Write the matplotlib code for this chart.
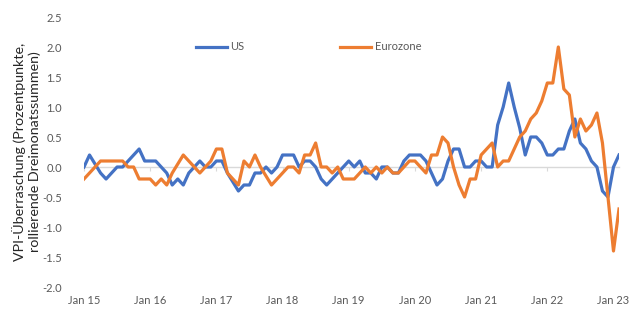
import matplotlib
matplotlib.use("Agg")
import matplotlib.pyplot as plt
import numpy as np

# Monthly data, Jan 2015 .. Feb 2023
us = [0.0, 0.2, 0.05, -0.1, -0.2, -0.1, 0.0, 0.0, 0.1, 0.2, 0.3, 0.1,
      0.1, 0.1, 0.0, -0.1, -0.3, -0.2, -0.3, -0.1, 0.0, 0.1, 0.0, 0.0,
      0.1, 0.1, -0.1, -0.25, -0.4, -0.3, -0.3, -0.1, -0.1, 0.0, -0.1, 0.0,
      0.2, 0.2, 0.2, 0.0, 0.1, 0.1, 0.0, -0.2, -0.3, -0.2, -0.1, 0.0,
      0.1, 0.0, 0.1, -0.1, -0.1, -0.2, 0.0, 0.0, -0.1, -0.1, 0.1, 0.2,
      0.2, 0.2, 0.1, -0.1, -0.3, -0.2, 0.1, 0.3, 0.3, 0.0, 0.0, 0.1,
      0.1, 0.0, 0.0, 0.7, 1.0, 1.4, 1.0, 0.65, 0.2, 0.5, 0.5, 0.4,
      0.2, 0.2, 0.3, 0.3, 0.6, 0.8, 0.4, 0.3, 0.1, 0.0, -0.4, -0.5,
      0.0, 0.2]
eurozone = [-0.2, -0.1, 0.0, 0.1, 0.1, 0.1, 0.1, 0.1, 0.0, 0.0, -0.2, -0.2,
            -0.2, -0.3, -0.2, -0.3, -0.1, 0.05, 0.2, 0.1, 0.0, -0.1, 0.0, 0.1,
            0.3, 0.3, -0.1, -0.2, -0.3, 0.1, 0.0, 0.2, 0.0, -0.15, -0.3, -0.2,
            -0.1, 0.0, 0.0, -0.1, 0.2, 0.2, 0.4, 0.0, 0.0, -0.1, 0.0, -0.2,
            -0.2, -0.2, -0.1, 0.0, -0.1, 0.0, -0.1, 0.0, -0.1, -0.1, 0.0, 0.1,
            0.1, 0.0, -0.1, 0.2, 0.2, 0.5, 0.4, 0.0, -0.3, -0.5, -0.2, -0.2,
            0.2, 0.3, 0.4, 0.0, 0.1, 0.1, 0.3, 0.5, 0.6, 0.8, 0.9, 1.1,
            1.4, 1.4, 2.0, 1.3, 1.2, 0.5, 0.8, 0.6, 0.7, 0.9, 0.4, -0.5,
            -1.4, -0.7]
tick_labels = ["Jan 15", "Jan 16", "Jan 17", "Jan 18", "Jan 19",
               "Jan 20", "Jan 21", "Jan 22", "Jan 23"]
y_ticks = [-2.0, -1.5, -1.0, -0.5, 0.0, 0.5, 1.0, 1.5, 2.0, 2.5]

plt.rcParams['font.family'] = ['Lato', 'DejaVu Sans']
grey = "#595959"

months = np.arange(len(us))
tick_pos = np.arange(len(tick_labels)) * 12

fig = plt.figure(figsize=(6.4, 3.3), dpi=100)
ax = fig.add_axes([84/640, 1-287/330, (619-84)/640, 270/330])

ax.plot(months, us, color="#4472C4", lw=2.3, label="US", solid_joinstyle="round")
ax.plot(months, eurozone, color="#ED7D31", lw=2.3, label="Eurozone", solid_joinstyle="round")

ax.set_xlim(0, len(us) - 1)
ax.set_ylim(-2.0, 2.5)
ax.set_yticks(y_ticks)
ax.set_yticklabels([f"{v:.1f}" for v in y_ticks])
ax.set_xticks(tick_pos)
ax.set_xticklabels(tick_labels)
ax.tick_params(axis='both', length=0, labelsize=8, labelcolor=grey)
ax.tick_params(axis='y', pad=16)
ax.tick_params(axis='x', pad=6)
for s in ax.spines.values():
    s.set_visible(False)

# zero axis line with small tick marks
sec = ax.secondary_xaxis(0, transform=ax.transData)
sec.set_xticks(tick_pos)
sec.set_xticklabels([])
sec.tick_params(length=3, color="#D9D9D9", width=0.8)
sec.spines['bottom'].set_color("#D9D9D9")
sec.spines['bottom'].set_linewidth(1.0)
ax.set_zorder(1)

ax.set_ylabel("VPI-Überraschung (Prozentpunkte,\nrollierende Dreimonatssummen)",
              fontsize=10.3, color="#262626", linespacing=1.2)
ax.yaxis.set_label_coords(-43/535, 0.5)

leg = ax.legend(loc="center", bbox_to_anchor=(0.42, 0.889), ncol=2, frameon=False,
                fontsize=8, handlelength=2.8, handletextpad=0.35, columnspacing=8.6,
                labelcolor=grey)

fig.savefig("out.png", dpi=100)
